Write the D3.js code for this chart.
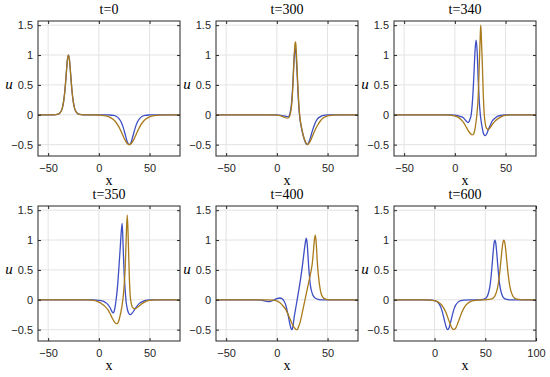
<!DOCTYPE html>
<html>
<head>
<meta charset="utf-8">
<script src="https://cdn.jsdelivr.net/npm/d3@7"></script>
<style>
  body { margin: 0; background: #fff; }
  svg { display: block; }
  .tick text { font-family: "Liberation Sans", Arial, sans-serif; font-size: 11px; fill: #262626; }
  .tick line { stroke: #262626; }
</style>
</head>
<body>
<svg id="chart" width="550" height="377"></svg>
<script>
// panel titles, axis ranges and ticks
const titles = ["t=0", "t=300", "t=340", "t=350", "t=400", "t=600"];
const xDomains = [[-60, 80], [-60, 80], [-60, 80], [-60, 80], [-60, 80], [-40, 100]];
const xTicks = [[-50, 0, 50], [-50, 0, 50], [-50, 0, 50], [-50, 0, 50], [-50, 0, 50], [0, 50, 100]];
const yDomain = [-0.69, 1.57];
const yTicks = [-0.5, 0, 0.5, 1, 1.5];

// [x, u]
const blue0 = [[-60,0],[-45,0],[-40,0.01],[-38,0.04],[-36,0.11],[-34,0.32],[-33,0.5],[-32,0.72],[-31,0.92],[-30,1],[-29,0.92],[-28,0.72],[-27,0.5],[-26,0.32],[-24,0.11],[-22,0.04],[-20,0.01],[-15,0],[0,0],[5,0],[10,-0.003],[14,-0.01],[17,-0.025],[20,-0.067],[22,-0.12],[24,-0.21],[26,-0.33],[28,-0.45],[30,-0.5],[32,-0.45],[34,-0.33],[36,-0.21],[38,-0.12],[40,-0.067],[43,-0.025],[46,-0.01],[50,-0.003],[55,0],[80,0]];
const orange0 = [[-60,0],[-45,0],[-40,0.01],[-38,0.04],[-36,0.11],[-34,0.32],[-33,0.5],[-32,0.72],[-31,0.92],[-30,1],[-29,0.92],[-28,0.72],[-27,0.5],[-26,0.32],[-24,0.11],[-22,0.04],[-20,0.01],[-15,0],[-5,0],[0,-0.005],[5,-0.013],[10,-0.035],[14,-0.075],[17,-0.129],[20,-0.21],[22,-0.28],[24,-0.356],[26,-0.428],[28,-0.48],[30,-0.5],[32,-0.48],[34,-0.428],[36,-0.356],[38,-0.28],[40,-0.21],[43,-0.129],[46,-0.075],[50,-0.035],[55,-0.013],[60,-0.005],[70,0],[80,0]];

const blue300 = [[-60,0],[-10,0],[0,-0.003],[4,-0.01],[7,-0.02],[10,-0.03],[12,-0.02],[13,0.03],[14,0.12],[15,0.3],[16,0.6],[17,0.95],[18,1.12],[19,0.98],[20,0.68],[21,0.32],[22,0.05],[23,-0.1],[24,-0.2],[25,-0.28],[27,-0.41],[29,-0.49],[30,-0.5],[31,-0.48],[33,-0.39],[35,-0.27],[37,-0.17],[40,-0.07],[43,-0.03],[46,-0.01],[50,0],[80,0]];
const orange300 = [[-60,0],[-10,0],[0,-0.005],[4,-0.02],[7,-0.04],[10,-0.055],[12,-0.045],[13,0],[14,0.08],[15,0.25],[16,0.55],[17,0.95],[18,1.2],[18.5,1.22],[19,1.12],[20,0.75],[21,0.38],[22,0.1],[23,-0.08],[24,-0.18],[25,-0.27],[27,-0.4],[29,-0.48],[30,-0.5],[31,-0.49],[33,-0.44],[35,-0.36],[37,-0.28],[40,-0.18],[43,-0.1],[46,-0.05],[50,-0.02],[55,-0.007],[60,0],[80,0]];

const blue340 = [[-60,0],[-5,0],[0,-0.005],[3,-0.015],[6,-0.03],[9,-0.06],[11,-0.1],[13,-0.13],[15,-0.07],[16,-0.01],[17,0.15],[18,0.4],[19,0.75],[20,1.1],[21,1.25],[22,1.05],[23,0.6],[24,0.25],[25,0.02],[26,-0.12],[27,-0.22],[28,-0.3],[29,-0.34],[30,-0.35],[31,-0.33],[33,-0.25],[35,-0.17],[37,-0.1],[40,-0.05],[43,-0.02],[46,-0.01],[50,0],[80,0]];
const orange340 = [[-60,0],[-10,0],[-5,-0.005],[0,-0.02],[3,-0.04],[6,-0.08],[9,-0.14],[11,-0.2],[13,-0.26],[15,-0.31],[17,-0.335],[18,-0.33],[19,-0.3],[20,-0.22],[21,-0.1],[22,0.05],[23,0.3],[24,0.8],[25,1.3],[25.5,1.5],[26,1.35],[27,0.9],[28,0.35],[29,0],[30,-0.15],[31,-0.22],[33,-0.25],[35,-0.21],[37,-0.16],[40,-0.1],[43,-0.06],[46,-0.03],[50,-0.01],[55,0],[80,0]];

const blue350 = [[-60,0],[-5,0],[0,-0.01],[3,-0.02],[6,-0.04],[9,-0.08],[11,-0.13],[13,-0.2],[14,-0.22],[15,-0.2],[16,-0.12],[17,0],[18,0.15],[19,0.35],[20,0.6],[21,0.85],[22,1.12],[23,1.28],[24,0.85],[25,0.42],[26,0.15],[27,-0.05],[28,-0.15],[29,-0.21],[30,-0.24],[31,-0.25],[33,-0.22],[35,-0.17],[37,-0.12],[40,-0.06],[43,-0.03],[46,-0.01],[50,0],[80,0]];
const orange350 = [[-60,0],[-10,-0.003],[-5,-0.01],[0,-0.04],[3,-0.07],[6,-0.11],[9,-0.17],[11,-0.23],[13,-0.3],[15,-0.36],[17,-0.4],[18,-0.4],[19,-0.38],[20,-0.33],[21,-0.26],[22,-0.18],[23,-0.08],[24,0.05],[25,0.25],[26,0.55],[27,1.05],[28,1.42],[29,1.0],[30,0.4],[31,0.05],[33,-0.12],[35,-0.15],[37,-0.14],[40,-0.1],[43,-0.06],[46,-0.03],[50,-0.01],[55,0],[80,0]];

const blue400 = [[-60,0],[-20,0],[-15,-0.005],[-12,-0.02],[-9,-0.03],[-6,-0.025],[-3,-0.005],[0,0.02],[3,0.03],[5,0.02],[7,-0.02],[9,-0.1],[11,-0.25],[13,-0.42],[14,-0.48],[15,-0.5],[16,-0.43],[17,-0.3],[18,-0.2],[20,0],[22,0.2],[24,0.42],[26,0.68],[28,0.95],[29,1.03],[30,0.92],[31,0.65],[32,0.42],[33,0.25],[35,0.1],[37,0.04],[40,0.01],[43,0],[80,0]];
const orange400 = [[-60,0],[-10,0],[-5,-0.005],[0,-0.02],[3,-0.05],[6,-0.1],[9,-0.17],[12,-0.28],[15,-0.4],[17,-0.46],[19,-0.5],[20,-0.5],[21,-0.47],[23,-0.37],[25,-0.22],[27,-0.06],[29,0.1],[31,0.26],[33,0.42],[35,0.62],[36,0.8],[37,1.0],[38,1.08],[39,0.9],[40,0.6],[41,0.4],[43,0.15],[45,0.05],[48,0.01],[52,0],[80,0]];

const blue600 = [[-40,0],[-10,0],[-2.6,-0.005],[0,-0.013],[2.6,-0.035],[5.2,-0.09],[6.5,-0.14],[7.8,-0.21],[9.1,-0.3],[10.4,-0.39],[11.7,-0.47],[13,-0.5],[14.3,-0.47],[15.6,-0.39],[16.9,-0.3],[18.2,-0.21],[19.5,-0.14],[20.8,-0.09],[23.4,-0.035],[26,-0.013],[28.6,-0.005],[35,0],[45,0],[48.7,0.01],[50.5,0.027],[52.3,0.071],[54.1,0.181],[55,0.28],[55.9,0.42],[56.8,0.6],[57.7,0.786],[58.6,0.94],[59.5,1],[60.4,0.94],[61.3,0.786],[62.2,0.6],[63.1,0.42],[64,0.28],[64.9,0.181],[66.7,0.071],[68.5,0.027],[70.3,0.01],[75,0],[100,0]];
const orange600 = [[-40,0],[-10,0],[-4.7,-0.005],[-0.75,-0.013],[3.2,-0.035],[7.15,-0.09],[9.1,-0.14],[11.1,-0.21],[13.1,-0.3],[15.05,-0.39],[17,-0.47],[19,-0.5],[21,-0.47],[22.95,-0.39],[24.9,-0.3],[26.9,-0.21],[28.9,-0.14],[30.85,-0.09],[34.8,-0.035],[38.75,-0.013],[42.7,-0.005],[50,0],[55.4,0.01],[57.55,0.027],[59.7,0.071],[61.85,0.181],[62.9,0.28],[64,0.42],[65.1,0.6],[66.15,0.786],[67.2,0.94],[68.3,1],[69.4,0.94],[70.45,0.786],[71.5,0.6],[72.6,0.42],[73.7,0.28],[74.75,0.181],[76.9,0.071],[79.05,0.027],[81.2,0.01],[88,0],[100,0]];

const blueSeries = [blue0, blue300, blue340, blue350, blue400, blue600];
const orangeSeries = [orange0, orange300, orange340, orange350, orange400, orange600];

const colLeft = [38, 216, 394];
const rowTop = [21, 206];
const pw = 142, ph = 135;
const axisColor = "#262626";
const gridColor = "#e3e3e3";
const blueColor = "#3e4fc4";
const orangeColor = "#a97a1a";

const svg = d3.select("#chart");
svg.append("rect").attr("width", 550).attr("height", 377).attr("fill", "#fff");

titles.forEach((title, i) => {
  const left = colLeft[i % 3];
  const top = rowTop[Math.floor(i / 3)];
  const g = svg.append("g").attr("transform", `translate(${left}, ${top})`);

  const xScale = d3.scaleLinear().domain(xDomains[i]).range([0, pw]);
  const yScale = d3.scaleLinear().domain(yDomain).range([ph, 0]);

  // grid
  g.append("g").selectAll("line").data(xTicks[i]).join("line")
    .attr("x1", d => xScale(d)).attr("x2", d => xScale(d))
    .attr("y1", 0).attr("y2", ph)
    .attr("stroke", gridColor);
  g.append("g").selectAll("line").data(yTicks).join("line")
    .attr("x1", 0).attr("x2", pw)
    .attr("y1", d => yScale(d)).attr("y2", d => yScale(d))
    .attr("stroke", gridColor);

  // curves
  const clipId = "clip" + i;
  g.append("clipPath").attr("id", clipId)
    .append("rect").attr("width", pw).attr("height", ph);
  const line = d3.line()
    .x(d => xScale(d[0]))
    .y(d => yScale(d[1]))
    .curve(d3.curveMonotoneX);
  [[blueSeries[i], blueColor], [orangeSeries[i], orangeColor]].forEach(([data, color]) => {
    g.append("path")
      .datum(data)
      .attr("clip-path", `url(#${clipId})`)
      .attr("fill", "none")
      .attr("stroke", color)
      .attr("stroke-width", 1.3)
      .attr("d", line);
  });

  // axes with inward ticks
  const xAxis = g.append("g").attr("transform", `translate(0, ${ph})`)
    .call(d3.axisBottom(xScale).tickValues(xTicks[i]).tickSize(-3).tickPadding(8));
  const yAxis = g.append("g")
    .call(d3.axisLeft(yScale).tickValues(yTicks).tickSize(-3).tickPadding(5)
      .tickFormat(d3.format("")));
  const xTop = g.append("g")
    .call(d3.axisTop(xScale).tickValues(xTicks[i]).tickSize(-3).tickFormat(""));
  const yRight = g.append("g").attr("transform", `translate(${pw}, 0)`)
    .call(d3.axisRight(yScale).tickValues(yTicks).tickSize(-3).tickFormat(""));
  [xAxis, yAxis, xTop, yRight].forEach(a => a.select(".domain").remove());

  // box
  g.append("rect")
    .attr("width", pw).attr("height", ph)
    .attr("fill", "none")
    .attr("stroke", axisColor)
    .attr("stroke-width", 1);

  // labels
  g.append("text")
    .attr("x", pw / 2).attr("y", -7)
    .attr("text-anchor", "middle")
    .attr("font-family", "'Liberation Serif', 'Times New Roman', serif")
    .attr("font-size", 14)
    .attr("fill", "#000")
    .text(title);
  g.append("text")
    .attr("x", pw / 2).attr("y", ph + 29)
    .attr("text-anchor", "middle")
    .attr("font-family", "'Liberation Serif', 'Times New Roman', serif")
    .attr("font-size", 14)
    .attr("fill", "#000")
    .text("x");
  g.append("text")
    .attr("x", -29).attr("y", yScale(0.5))
    .attr("dy", "0.3em")
    .attr("text-anchor", "middle")
    .attr("font-family", "'Liberation Serif', 'Times New Roman', serif")
    .attr("font-style", "italic")
    .attr("font-size", 15)
    .attr("fill", "#000")
    .text("u");
});
</script>
</body>
</html>
